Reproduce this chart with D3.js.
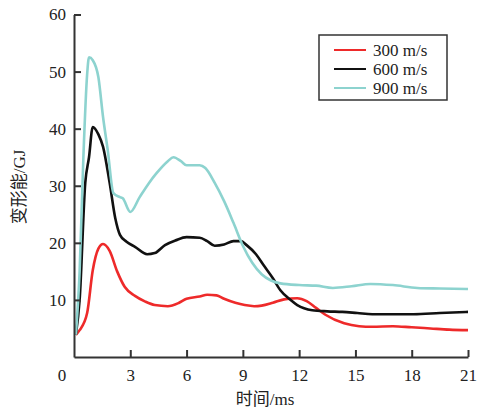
<!DOCTYPE html>
<html>
<head>
<meta charset="utf-8">
<script src="https://cdn.jsdelivr.net/npm/d3@7"></script>
<style>
  body { margin: 0; background: #fff; }
</style>
</head>
<body>
<script>
// ---- data ----
var seriesNames = ['300 m/s', '600 m/s', '900 m/s'];
var seriesColors = ['#ee2a2a', '#111111', '#8dd3cf'];

var t300 = [0.1, 0.3, 0.7, 1.0, 1.3, 1.55, 1.9, 2.3, 2.7, 3.25, 3.8, 4.3, 5.0, 5.6, 6.0, 6.7, 7.1, 7.6, 8.0, 8.6, 9.1, 9.6, 10.0, 10.6, 11.2, 11.9, 12.4, 12.9, 13.4, 14.4, 15.2, 15.9, 17.0, 18.0, 19.0, 20.0, 21.0];
var v300 = [3.9, 4.7, 7.7, 15.2, 19.0, 19.8, 18.6, 15.0, 12.3, 10.7, 9.7, 9.1, 8.9, 9.5, 10.2, 10.6, 10.9, 10.8, 10.2, 9.5, 9.1, 8.9, 9.0, 9.5, 10.1, 10.3, 9.8, 8.6, 7.4, 5.9, 5.4, 5.3, 5.4, 5.2, 5.0, 4.8, 4.7];

var t600 = [0.1, 0.3, 0.6, 0.8, 1.0, 1.3, 1.55, 1.9, 2.2, 2.45, 2.8, 3.25, 3.9, 4.3, 4.85, 5.4, 6.0, 6.7, 7.1, 7.5, 8.0, 8.5, 8.9, 9.2, 9.7, 10.1, 10.6, 11.0, 11.5, 11.9, 12.7, 13.5, 14.3, 15.1, 15.9, 17.0, 18.1, 19.5, 21.0];
var v600 = [3.9, 10.0, 30.5, 35.0, 40.3, 39.0, 36.8, 30.5, 24.3, 21.4, 20.2, 19.3, 18.0, 18.2, 19.6, 20.4, 21.0, 20.9, 20.3, 19.5, 19.7, 20.3, 20.3, 19.6, 18.0, 16.1, 13.8, 11.7, 10.1, 9.1, 8.2, 8.0, 7.9, 7.7, 7.5, 7.5, 7.5, 7.7, 7.9];

var t900 = [0.1, 0.3, 0.5, 0.7, 0.8, 1.0, 1.3, 1.55, 1.8, 2.1, 2.45, 2.6, 3.0, 3.5, 4.0, 4.4, 5.0, 5.3, 5.7, 6.0, 6.7, 7.0, 7.5, 8.0, 8.5, 9.0, 9.5, 10.0, 10.5, 11.0, 12.0, 12.9, 13.8, 14.8, 15.8, 17.0, 18.3, 19.5, 21.0];
var v900 = [3.9, 15.0, 35.0, 49.5, 52.5, 52.0, 49.0, 42.0, 36.2, 28.7, 28.0, 27.8, 25.4, 28.0, 30.5, 32.2, 34.3, 35.0, 34.3, 33.6, 33.6, 33.1, 30.5, 27.3, 23.5, 19.5, 16.5, 14.5, 13.4, 12.9, 12.6, 12.5, 12.1, 12.4, 12.8, 12.6, 12.1, 12.0, 11.9];

var xTicks = [3, 6, 9, 12, 15, 18, 21];
var yTicks = [10, 20, 30, 40, 50, 60];

var series = [
  {name: seriesNames[0], color: seriesColors[0], t: t300, v: v300},
  {name: seriesNames[1], color: seriesColors[1], t: t600, v: v600},
  {name: seriesNames[2], color: seriesColors[2], t: t900, v: v900}
];

var serif = '"Liberation Serif", "Times New Roman", "DejaVu Serif", "Noto Sans CJK SC", serif';

var svg = d3.select('body').append('svg')
  .attr('width', 484)
  .attr('height', 409)
  .attr('font-family', serif);

var x = d3.scaleLinear().domain([0, 21]).range([74, 468]);
var y = d3.scaleLinear().domain([0, 60]).range([357, 14.5]);

// curves
var line = d3.line()
  .x(function(d) { return x(d[0]); })
  .y(function(d) { return y(d[1]); })
  .curve(d3.curveMonotoneX);

series.forEach(function(s) {
  svg.append('path')
    .datum(d3.zip(s.t, s.v))
    .attr('d', line)
    .attr('fill', 'none')
    .attr('stroke', s.color)
    .attr('stroke-width', 2.6)
    .attr('stroke-linejoin', 'round');
});

// axes (ticks point inward)
var axisColor = '#333';

var xAxis = svg.append('g')
  .attr('transform', 'translate(0,' + y(0) + ')')
  .call(d3.axisBottom(x).tickValues(xTicks).tickSizeInner(-7).tickSizeOuter(0).tickPadding(12));
var yAxis = svg.append('g')
  .attr('transform', 'translate(' + x(0) + ',0)')
  .call(d3.axisLeft(y).tickValues(yTicks).tickSizeInner(-7).tickSizeOuter(0).tickPadding(8));

[xAxis, yAxis].forEach(function(a) {
  a.attr('font-family', serif).attr('font-size', 17);
  a.selectAll('path').attr('stroke', axisColor).attr('stroke-width', 2);
  a.selectAll('line').attr('stroke', axisColor).attr('stroke-width', 2);
  a.selectAll('text').attr('fill', '#222');
});
xAxis.selectAll('text').attr('dy', '0.71em').attr('y', 12);
yAxis.selectAll('text').attr('x', -8);

// origin label
svg.append('text').text('0')
  .attr('x', 62).attr('y', 381)
  .attr('text-anchor', 'middle')
  .attr('fill', '#222')
  .attr('font-size', 17);

// axis titles
svg.append('text').text('时间/ms')
  .attr('x', 265).attr('y', 405)
  .attr('text-anchor', 'middle')
  .attr('fill', '#222')
  .attr('font-size', 17);

svg.append('text').text('变形能/GJ')
  .attr('transform', 'translate(25,187) rotate(-90)')
  .attr('text-anchor', 'middle')
  .attr('fill', '#222')
  .attr('font-size', 17);

// legend
var legend = svg.append('g');
legend.append('rect')
  .attr('x', 319).attr('y', 35)
  .attr('width', 128).attr('height', 65)
  .attr('fill', '#fff')
  .attr('stroke', '#333')
  .attr('stroke-width', 1.5);

var rowY = [50, 69, 88];
series.forEach(function(s, i) {
  legend.append('line')
    .attr('x1', 334).attr('x2', 366)
    .attr('y1', rowY[i]).attr('y2', rowY[i])
    .attr('stroke', s.color)
    .attr('stroke-width', 2);
  legend.append('text').text(s.name)
    .attr('x', 373).attr('y', rowY[i] + 6)
    .attr('fill', '#222')
    .attr('font-size', 17);
});
</script>
</body>
</html>
